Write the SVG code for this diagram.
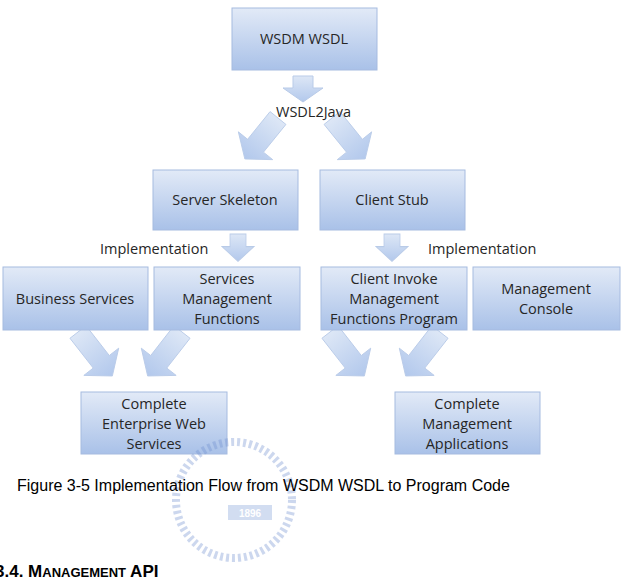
<svg xmlns="http://www.w3.org/2000/svg" width="624" height="583" viewBox="0 0 624 583">
<defs>
<linearGradient id="bg" x1="0" y1="0" x2="0" y2="1"><stop offset="0" stop-color="#e2eaf7"/><stop offset="1" stop-color="#a9c1e8"/></linearGradient>
<linearGradient id="ag" x1="0" y1="0" x2="0" y2="1"><stop offset="0" stop-color="#dde7f6"/><stop offset="1" stop-color="#b2c8ec"/></linearGradient>
<path id="big" d="M-12,0 L12,0 L12,42 L26,42 L0,62 L-26,42 L-12,42 Z"/>
<path id="sm" d="M-10,0 L10,0 L10,12 L20,12 L0,26 L-20,12 L-10,12 Z"/>
</defs>
<style>
.box{fill:url(#bg);stroke:#a6bbe0;stroke-width:1}
.arr{fill:url(#ag);stroke:#b9cbe8;stroke-width:1}
.t{font-family:"Open Sans","Liberation Sans",sans-serif;font-size:14.5px;fill:#262626;text-anchor:middle}
.l{font-family:"Open Sans","Liberation Sans",sans-serif;font-size:14.5px;fill:#262626}
</style>
<g id="connectors">
<use href="#sm" class="arr" transform="translate(303,76)"/>
<use href="#big" class="arr" transform="translate(278,118) rotate(39) scale(0.85,0.85)"/>
<use href="#big" class="arr" transform="translate(332,118) rotate(-39) scale(0.85,0.85)"/>
<use href="#sm" class="arr" transform="translate(238,234) scale(0.8,1.05)"/>
<use href="#sm" class="arr" transform="translate(392,234) scale(0.8,1.05)"/>
<use href="#big" class="arr" transform="translate(78,332) rotate(-38) scale(0.85,0.9)"/>
<use href="#big" class="arr" transform="translate(182,332) rotate(38) scale(0.85,0.9)"/>
<use href="#big" class="arr" transform="translate(330,332) rotate(-38) scale(0.85,0.9)"/>
<use href="#big" class="arr" transform="translate(440,332) rotate(38) scale(0.85,0.9)"/>
<text class="l" x="276" y="117">WSDL2Java</text>
<text class="l" x="100" y="254">Implementation</text>
<text class="l" x="428" y="254">Implementation</text>
</g>
<g id="wsdm"><rect class="box" x="232" y="8" width="145" height="62"/><text class="t" x="304" y="44">WSDM WSDL</text></g>
<g id="server"><rect class="box" x="153" y="170" width="145" height="60"/><text class="t" x="225" y="205">Server Skeleton</text></g>
<g id="client"><rect class="box" x="320" y="170" width="145" height="60"/><text class="t" x="392" y="205">Client Stub</text></g>
<g id="business"><rect class="box" x="3" y="267" width="145" height="63"/><text class="t" x="75" y="304">Business Services</text></g>
<g id="svcmgmt"><rect class="box" x="154" y="267" width="146" height="63"/><text class="t" x="227" y="284">Services</text><text class="t" x="227" y="304">Management</text><text class="t" x="227" y="324">Functions</text></g>
<g id="invoke"><rect class="box" x="321" y="267" width="146" height="63"/><text class="t" x="394" y="284">Client Invoke</text><text class="t" x="394" y="304">Management</text><text class="t" x="394" y="324">Functions Program</text></g>
<g id="console"><rect class="box" x="473" y="267" width="147" height="63"/><text class="t" x="546" y="294">Management</text><text class="t" x="546" y="314">Console</text></g>
<g id="enterprise"><rect class="box" x="81" y="392" width="146" height="62"/><text class="t" x="154" y="409">Complete</text><text class="t" x="154" y="429">Enterprise Web</text><text class="t" x="154" y="449">Services</text></g>
<g id="mgmtapps"><rect class="box" x="395" y="392" width="145" height="62"/><text class="t" x="467" y="409">Complete</text><text class="t" x="467" y="429">Management</text><text class="t" x="467" y="449">Applications</text></g>
<g id="watermark" opacity="0.35">
<circle cx="234" cy="500" r="58" fill="none" stroke="#6f8fd0" stroke-width="8" stroke-dasharray="3 3"/>
<rect x="228" y="505" width="44" height="15" fill="#7f9fd8"/>
<text x="250" y="517" font-family="Liberation Sans,sans-serif" font-size="10" font-weight="bold" fill="#fff" text-anchor="middle">1896</text>
</g>
<text x="17" y="491" font-family="Liberation Sans,Arial,sans-serif" font-size="16" fill="#000">Figure 3-5 Implementation Flow from WSDM WSDL to Program Code</text>
<text x="-5" y="577" font-family="Liberation Sans,Arial,sans-serif" font-size="17" font-weight="bold" fill="#000">3.4.   M<tspan font-size="13">ANAGEMENT</tspan> API</text>
</svg>
